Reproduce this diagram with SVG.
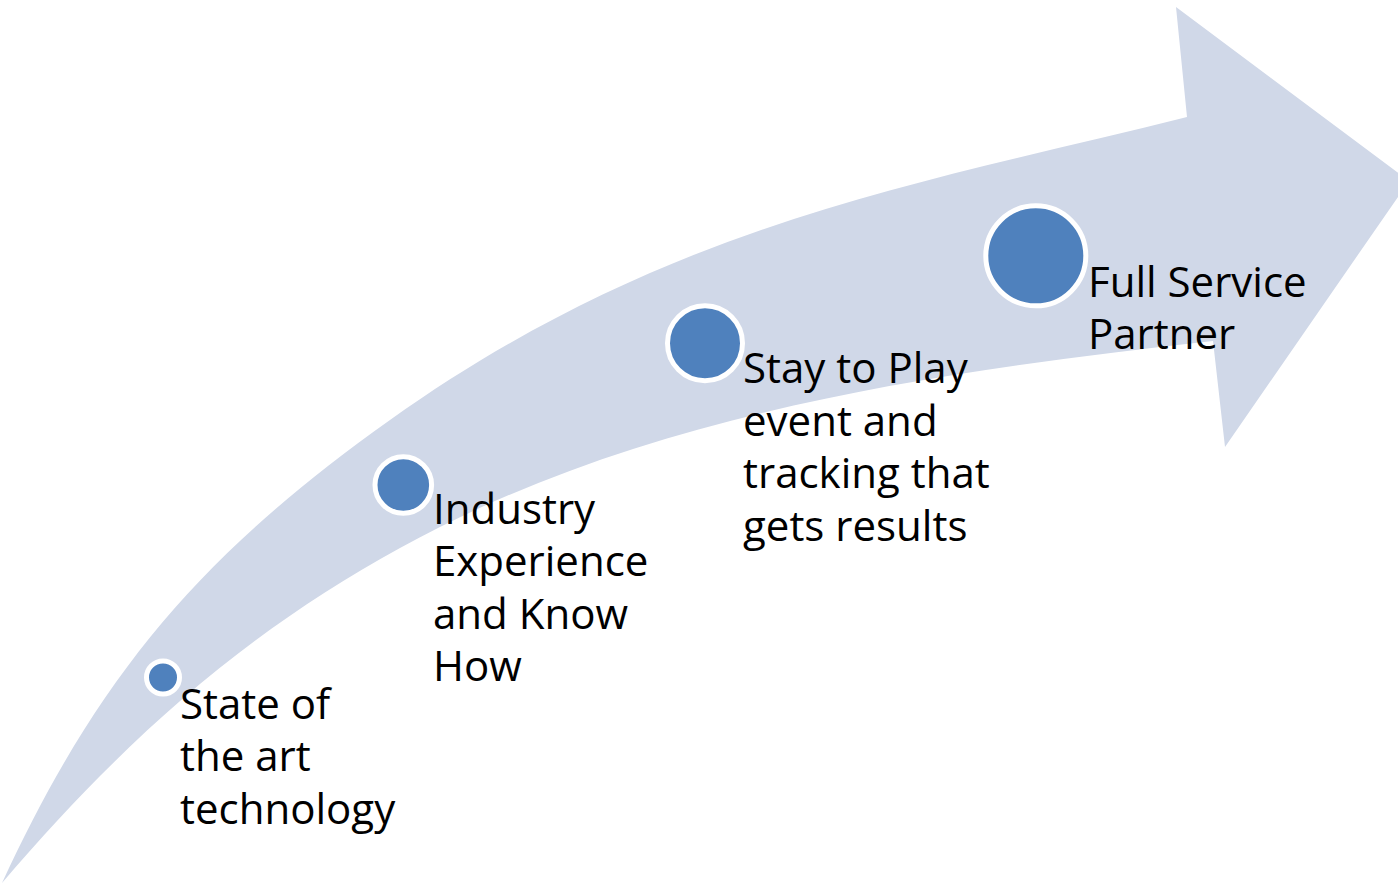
<svg xmlns="http://www.w3.org/2000/svg" width="1398" height="887" viewBox="0 0 1398 887">
  <style>
    .band { fill: #D0D8E8; stroke: none; }
    .dot { fill: #4F81BD; stroke: #FFFFFF; stroke-width: 5; }
    .label { font-family: "Open Sans", "Liberation Sans", sans-serif; font-size: 42px; fill: #000000; }
  </style>

  <!-- curved upward arrow: outer edge, head, inner edge back to the tail point -->
  <g id="connectors">
    <path class="band" d="M 2,883
      C 98.6,673.7 202.5,553.4 390,420
      C 667,223 915,185 1187,117
      L 1176,7
      L 1409,181
      L 1225,447
      L 1213,341
      C 935,372 645,413 400,548
      C 251,630 132,731 2,883 Z"/>
  </g>

  <g id="step1">
    <circle class="dot" cx="163" cy="677.5" r="16.5"/>
    <text class="label" x="180" y="718.5">State of</text>
    <text class="label" x="180" y="771">the art</text>
    <text class="label" x="180" y="823.5">technology</text>
  </g>

  <g id="step2">
    <circle class="dot" cx="403.3" cy="485" r="28.3"/>
    <text class="label" x="433" y="523.5">Industry</text>
    <text class="label" x="433" y="576">Experience</text>
    <text class="label" x="433" y="628.5">and Know</text>
    <text class="label" x="433" y="681">How</text>
  </g>

  <g id="step3">
    <circle class="dot" cx="705" cy="343.3" r="37.5"/>
    <text class="label" x="743" y="383">Stay to Play</text>
    <text class="label" x="743" y="435.5">event and</text>
    <text class="label" x="743" y="488">tracking that</text>
    <text class="label" x="743" y="540.5">gets results</text>
  </g>

  <g id="step4">
    <circle class="dot" cx="1035.8" cy="255.8" r="50"/>
    <text class="label" x="1088" y="296.5">Full Service</text>
    <text class="label" x="1088" y="349">Partner</text>
  </g>
</svg>
